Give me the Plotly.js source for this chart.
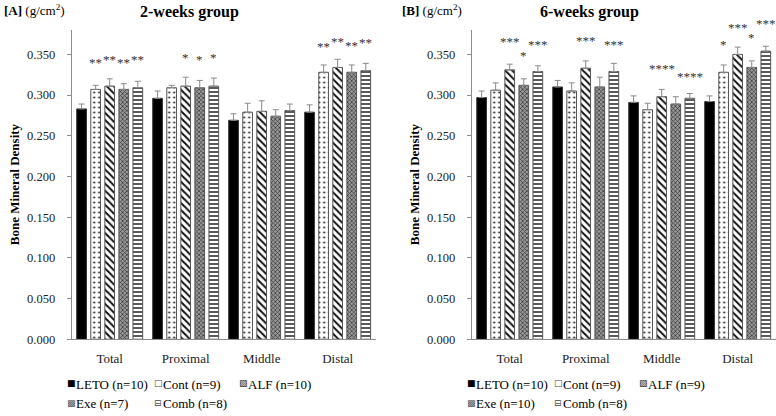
<!DOCTYPE html>
<html><head><meta charset="utf-8">
<script src="https://cdn.plot.ly/plotly-3.0.1.min.js"></script>
<style>html,body{margin:0;padding:0;background:#fff}</style>
</head><body><div id="chart" style="width:776px;height:416px"></div>
<script>
// ---------- data ----------
const categories = ['Total', 'Proximal', 'Middle', 'Distal'];
const seriesNames = ['LETO', 'Cont', 'ALF', 'Exe', 'Comb'];
const legendNamesA = ['LETO (n=10)', 'Cont (n=9)', 'ALF (n=10)', 'Exe (n=7)', 'Comb (n=8)'];
const legendNamesB = ['LETO (n=10)', 'Cont (n=9)', 'ALF (n=9)', 'Exe (n=10)', 'Comb (n=8)'];

// [A] 2-weeks group (g/cm2): Total, Proximal, Middle, Distal
const letoA = [0.283, 0.296, 0.269, 0.279];
const contA = [0.307, 0.309, 0.279, 0.328];
const alfA  = [0.311, 0.311, 0.280, 0.334];
const exeA  = [0.307, 0.309, 0.274, 0.328];
const combA = [0.309, 0.311, 0.281, 0.330];
const letoAErr = [0.006, 0.009, 0.008, 0.009];
const contAErr = [0.005, 0.003, 0.011, 0.009];
const alfAErr  = [0.009, 0.011, 0.013, 0.010];
const exeAErr  = [0.007, 0.009, 0.008, 0.009];
const combAErr = [0.008, 0.010, 0.008, 0.009];

// [B] 6-weeks group (g/cm2)
const letoB = [0.297, 0.310, 0.291, 0.292];
const contB = [0.306, 0.305, 0.282, 0.328];
const alfB  = [0.331, 0.333, 0.298, 0.350];
const exeB  = [0.312, 0.310, 0.289, 0.334];
const combB = [0.329, 0.329, 0.296, 0.354];
const letoBErr = [0.008, 0.008, 0.008, 0.007];
const contBErr = [0.009, 0.010, 0.008, 0.009];
const alfBErr  = [0.007, 0.009, 0.009, 0.009];
const exeBErr  = [0.008, 0.012, 0.009, 0.008];
const combBErr = [0.007, 0.010, 0.006, 0.006];

// significance marks: category, series, text, height (g/cm2)
const starCatA = ['Total', 'Total', 'Total', 'Total', 'Proximal', 'Proximal', 'Proximal', 'Distal', 'Distal', 'Distal', 'Distal'];
const starSerA = ['Cont', 'ALF', 'Exe', 'Comb', 'ALF', 'Exe', 'Comb', 'Cont', 'ALF', 'Exe', 'Comb'];
const starTxtA = ['**', '**', '**', '**', '*', '*', '*', '**', '**', '**', '**'];
const starYA   = [0.344, 0.348, 0.344, 0.347, 0.350, 0.347, 0.350, 0.364, 0.370, 0.365, 0.368];

const starCatB = ['Total', 'Total', 'Total', 'Proximal', 'Proximal', 'Middle', 'Middle', 'Distal', 'Distal', 'Distal', 'Distal'];
const starSerB = ['ALF', 'Exe', 'Comb', 'ALF', 'Comb', 'ALF', 'Comb', 'Cont', 'ALF', 'Exe', 'Comb'];
const starTxtB = ['***', '*', '***', '***', '***', '****', '****', '*', '***', '*', '***'];
const starYB   = [0.369, 0.352, 0.366, 0.371, 0.366, 0.336, 0.327, 0.366, 0.387, 0.374, 0.392];

const yTickVals = [0, 0.05, 0.10, 0.15, 0.20, 0.25, 0.30, 0.35];

// ---------- styling ----------
const FONT = 'Liberation Serif, Times New Roman, serif';
const Y_MAX = 0.38;
const BARGAP = 0.075;
const BARGROUPGAP = 0.31;
const markerStyles = [
  {color: '#000000', line: {color: '#333', width: 1}},
  {color: '#ffffff', line: {color: '#555', width: 1},
   pattern: {shape: '.', fgcolor: '#222', bgcolor: '#ffffff', size: 5, solidity: 0.15}},
  {color: '#ffffff', line: {color: '#555', width: 1},
   pattern: {shape: '\\', fgcolor: '#111', bgcolor: '#ffffff', size: 5, solidity: 0.4}},
  {color: '#888888', line: {color: '#555', width: 1},
   pattern: {shape: 'x', fgcolor: '#3a3a3a', bgcolor: '#999999', size: 3, solidity: 0.45}},
  {color: '#ffffff', line: {color: '#555', width: 1},
   pattern: {shape: '-', fgcolor: '#111', bgcolor: '#ffffff', size: 4, solidity: 0.35}}
];
// small legend glyphs and colours standing in for each bar fill
const legendGlyphs = ['■', '□', '▧', '▩', '⊟'];
const legendGlyphColors = ['#000', '#444', '#222', '#555', '#444'];

const valsA = [letoA, contA, alfA, exeA, combA];
const errsA = [letoAErr, contAErr, alfAErr, exeAErr, combAErr];
const valsB = [letoB, contB, alfB, exeB, combB];
const errsB = [letoBErr, contBErr, alfBErr, exeBErr, combBErr];

const traces = [];
function addPanel(vals, errs, names, xa, ya) {
  vals.forEach((v, i) => {
    traces.push({
      type: 'bar', x: categories, y: v, name: names[i],
      xaxis: xa, yaxis: ya, showlegend: false,
      marker: markerStyles[i],
      error_y: {type: 'data', array: errs[i], arrayminus: errs[i].map(() => 0),
                symmetric: false, color: '#8a8a8a', thickness: 1, width: 3},
      hoverinfo: 'x+y+name'
    });
  });
}
addPanel(valsA, errsA, legendNamesA, 'x', 'y');
addPanel(valsB, errsB, legendNamesB, 'x2', 'y2');

const annotations = [];
function addStars(cats, sers, txts, ys, xr, yr) {
  const slot = (1 - BARGAP) / seriesNames.length;
  cats.forEach((c, k) => {
    const ci = categories.indexOf(c);
    const si = seriesNames.indexOf(sers[k]);
    annotations.push({
      x: ci + (si - 2) * slot, xref: xr,
      y: ys[k] / Y_MAX, yref: yr + ' domain',
      text: txts[k], showarrow: false, yanchor: 'middle', xanchor: 'center', yshift: -3,
      font: {family: FONT, size: 13, color: '#333'}
    });
  });
}
addStars(starCatA, starSerA, starTxtA, starYA, 'x', 'y');
addStars(starCatB, starSerB, starTxtB, starYB, 'x2', 'y2');

// legend laid out in two rows under each panel (pixel layout -> paper fractions)
const W = 776, H = 416;
const legendRowY = [384, 403.5];
const legendColX = [65, 152, 237];
function addLegend(names, x0) {
  names.forEach((nm, i) => {
    const row = i < 3 ? 0 : 1;
    const col = i < 3 ? i : i - 3;
    const sx = x0 + legendColX[col];
    const py = 1 - legendRowY[row] / H;
    annotations.push({
      text: legendGlyphs[i], x: sx / W, y: py, xref: 'paper', yref: 'paper',
      xanchor: 'left', yanchor: 'middle', showarrow: false, yshift: 1,
      font: {family: 'DejaVu Sans', size: 9, color: legendGlyphColors[i]}
    });
    annotations.push({
      text: nm, x: (sx + 9) / W, y: py, xref: 'paper', yref: 'paper',
      xanchor: 'left', yanchor: 'middle', showarrow: false,
      font: {family: FONT, size: 13, color: '#000'}
    });
  });
}
addLegend(legendNamesA, 0);
addLegend(legendNamesB, 400);

annotations.push(
  {text: '<b>2-weeks group</b>', x: 0.2448, y: 0.971, xref: 'paper', yref: 'paper',
   showarrow: false, xanchor: 'center', yanchor: 'middle', font: {family: FONT, size: 16, color: '#000'}},
  {text: '<b>6-weeks group</b>', x: 0.7603, y: 0.971, xref: 'paper', yref: 'paper',
   showarrow: false, xanchor: 'center', yanchor: 'middle', font: {family: FONT, size: 16, color: '#000'}},
  {text: '<b>[A]</b> (g/cm<sup>2</sup>)', x: 0.002, y: 0.976, xref: 'paper', yref: 'paper',
   showarrow: false, xanchor: 'left', yanchor: 'middle', font: {family: FONT, size: 13, color: '#000'}},
  {text: '<b>[B]</b> (g/cm<sup>2</sup>)', x: 0.5155, y: 0.976, xref: 'paper', yref: 'paper',
   showarrow: false, xanchor: 'left', yanchor: 'middle', font: {family: FONT, size: 13, color: '#000'}}
);

function yAxis(anchor) {
  return {
    anchor: anchor, domain: [0.1846, 0.9279], range: [0, Y_MAX],
    tickvals: yTickVals, tickformat: '.3f', showgrid: false, zeroline: false,
    showline: true, linecolor: '#8c8c8c', linewidth: 1,
    ticks: 'outside', ticklen: 4, tickcolor: '#8c8c8c', ticklabelstandoff: 9,
    tickfont: {family: FONT, size: 12.5, color: '#222'},
    title: {text: '<b>Bone Mineral Density</b>', standoff: 4,
            font: {family: FONT, size: 13, color: '#000'}},
    fixedrange: true
  };
}
function xAxis(anchor, dom) {
  return {
    anchor: anchor, domain: dom, type: 'category', range: [-0.5, 3.5],
    showline: true, linecolor: '#8c8c8c', linewidth: 1, ticks: '', showgrid: false,
    ticklabelstandoff: 7,
    tickfont: {family: FONT, size: 13, color: '#222'}, fixedrange: true
  };
}

const layout = {
  width: W, height: H, margin: {l: 0, r: 0, t: 0, b: 0},
  paper_bgcolor: '#fff', plot_bgcolor: '#fff',
  barmode: 'group', bargap: BARGAP, bargroupgap: BARGROUPGAP,
  font: {family: FONT, color: '#000'},
  xaxis: xAxis('y', [0.0924, 0.4841]),
  yaxis: yAxis('x'),
  xaxis2: xAxis('y2', [0.6079, 0.9996]),
  yaxis2: yAxis('x2'),
  showlegend: false,
  annotations: annotations
};

Plotly.newPlot('chart', traces, layout, {displayModeBar: false, staticPlot: true});
</script>
</body></html>
